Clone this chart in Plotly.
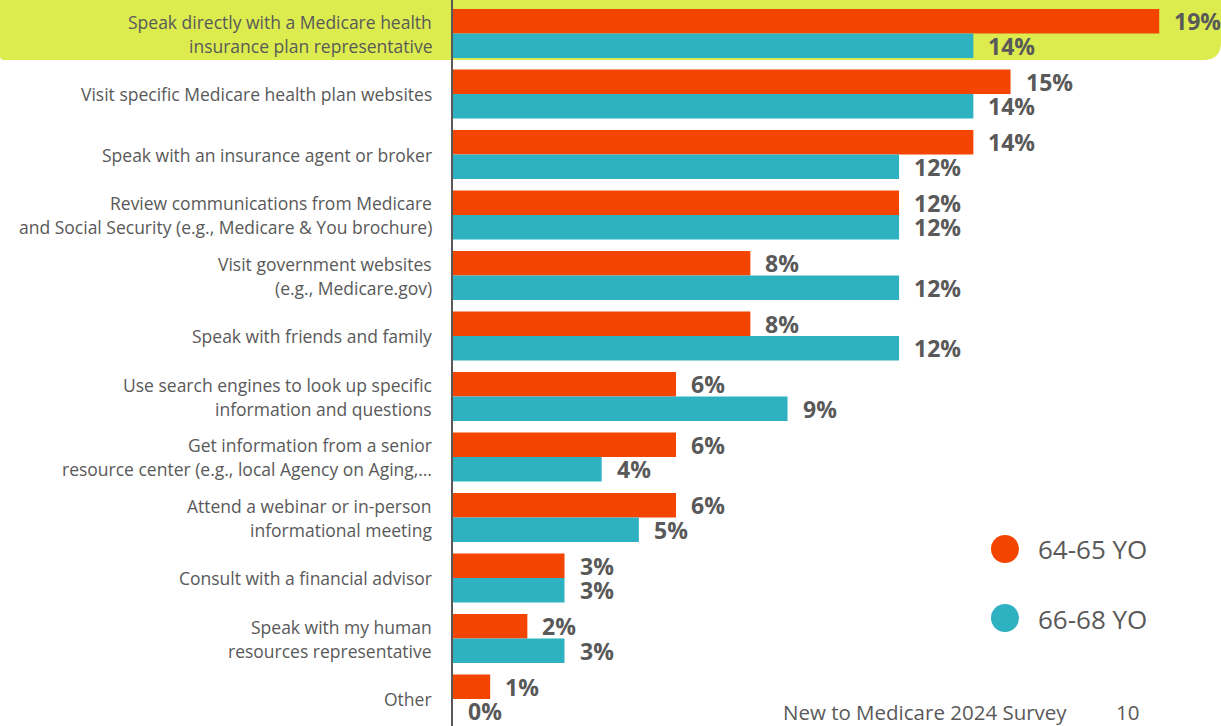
import plotly.graph_objects as go

# ---- data ----
categories = [
    ["Speak directly with a Medicare health", "insurance plan representative"],
    ["Visit specific Medicare health plan websites"],
    ["Speak with an insurance agent or broker"],
    ["Review communications from Medicare", "and Social Security (e.g., Medicare & You brochure)"],
    ["Visit government websites", "(e.g., Medicare.gov)"],
    ["Speak with friends and family"],
    ["Use search engines to look up specific", "information and questions"],
    ["Get information from a senior", "resource center (e.g., local Agency on Aging,…"],
    ["Attend a webinar or in-person", "informational meeting"],
    ["Consult with a financial advisor"],
    ["Speak with my human", "resources representative"],
    ["Other"],
]
series_names = ["64-65 YO", "66-68 YO"]
values_64_65 = [19, 15, 14, 12, 8, 8, 6, 6, 6, 3, 2, 1]
values_66_68 = [14, 14, 12, 12, 12, 12, 9, 4, 5, 3, 3, 0]
footer_text = "New to Medicare 2024 Survey"
page_number = "10"

# ---- style ----
W, H = 1221, 726
ORANGE = "#F34500"
TEAL = "#2EB2C2"
HILITE = "#DCEC4F"
GRAY = "#595959"
FONT = "Open Sans"
AX_LEFT = 453
PX_PER_UNIT = 37.17
ROW_PX = 60.5
ROW0_PX = 33.5

n = len(values_64_65)
ypos = list(range(n))
bargap = 1 - 49.0 / ROW_PX
half_off = (1 - bargap) / 4.0

fig = go.Figure()
fig.add_trace(go.Bar(y=ypos, x=values_64_65, orientation="h", name=series_names[0],
                     marker=dict(color=ORANGE, line=dict(width=0)), hoverinfo="x+name"))
fig.add_trace(go.Bar(y=ypos, x=values_66_68, orientation="h", name=series_names[1],
                     marker=dict(color=TEAL, line=dict(width=0)), hoverinfo="x+name"))

def px_x(px):
    return px / W

def px_y(py):
    return 1 - py / H

annotations = []
# value labels
for i in range(n):
    for val, off in ((values_64_65[i], -half_off), (values_66_68[i], half_off)):
        annotations.append(dict(
            x=val, y=i + off, xref="x", yref="y", text=f"<b>{val}%</b>",
            showarrow=False, xanchor="left", yanchor="middle", xshift=13, yshift=0,
            font=dict(family=FONT, size=23, color=GRAY)))

# category labels (one annotation per line)
for i, lines in enumerate(categories):
    nl = len(lines)
    for j, line in enumerate(lines):
        shift = (nl - 1) / 2.0 * 24 - j * 24
        annotations.append(dict(
            x=px_x(434), y=i, xref="paper", yref="y", text=line,
            showarrow=False, xanchor="right", yanchor="middle", yshift=shift,
            font=dict(family=FONT, size=17.5, color=GRAY)))

# legend text
for name, py in ((series_names[0], 549), (series_names[1], 619)):
    annotations.append(dict(
        x=px_x(1036), y=px_y(py), xref="paper", yref="paper", text=name,
        showarrow=False, xanchor="left", yanchor="middle",
        font=dict(family=FONT, size=26, color=GRAY)))

# footer
annotations.append(dict(x=px_x(781), y=px_y(712), xref="paper", yref="paper", text=footer_text,
                        showarrow=False, xanchor="left", yanchor="middle",
                        font=dict(family=FONT, size=20.5, color=GRAY)))
annotations.append(dict(x=px_x(1114), y=px_y(712), xref="paper", yref="paper", text=page_number,
                        showarrow=False, xanchor="left", yanchor="middle",
                        font=dict(family=FONT, size=20.5, color=GRAY)))

# highlight box with rounded bottom corners (pixel path converted to paper)
pts = [("M", 0, -5), ("L", 0, 56), ("Q", 0, 60, 4, 60), ("L", 1203, 60),
       ("Q", 1221, 60, 1221, 42), ("L", 1221, -5)]
path = ""
for p in pts:
    cmd = p[0]
    coords = p[1:]
    s = []
    for k in range(0, len(coords), 2):
        s.append(f"{px_x(coords[k]):.5f},{px_y(coords[k+1]):.5f}")
    path += cmd + " " + " ".join(s) + " "
path += "Z"

shapes = [dict(type="path", path=path, xref="paper", yref="paper", layer="below",
               fillcolor=HILITE, line=dict(width=0))]
for color, py in ((ORANGE, 549), (TEAL, 618)):
    shapes.append(dict(type="circle", xref="paper", yref="paper",
                       xsizemode="pixel", ysizemode="pixel",
                       xanchor=px_x(1005), yanchor=px_y(py),
                       x0=-14, x1=14, y0=-14, y1=14,
                       fillcolor=color, line=dict(width=0)))

x_max = (W - AX_LEFT) / PX_PER_UNIT
y_top = -ROW0_PX / ROW_PX
y_bot = (H - ROW0_PX) / ROW_PX

fig.update_layout(
    width=W, height=H, autosize=False,
    margin=dict(l=0, r=0, t=0, b=0, pad=0),
    paper_bgcolor="white", plot_bgcolor="rgba(0,0,0,0)",
    barmode="group", bargap=bargap, bargroupgap=0,
    showlegend=False,
    xaxis=dict(domain=[AX_LEFT / W, 1], range=[0, x_max], visible=False, fixedrange=True),
    yaxis=dict(range=[y_bot, y_top], showticklabels=False, ticks="", showgrid=False,
               zeroline=False, showline=True, linecolor=GRAY, linewidth=2, fixedrange=True),
    annotations=annotations,
    shapes=shapes,
    font=dict(family=FONT, color=GRAY),
)

fig.write_html("out.html", config={"displayModeBar": False},
               post_script="document.body.style.margin='0';document.body.style.overflow='hidden';")
